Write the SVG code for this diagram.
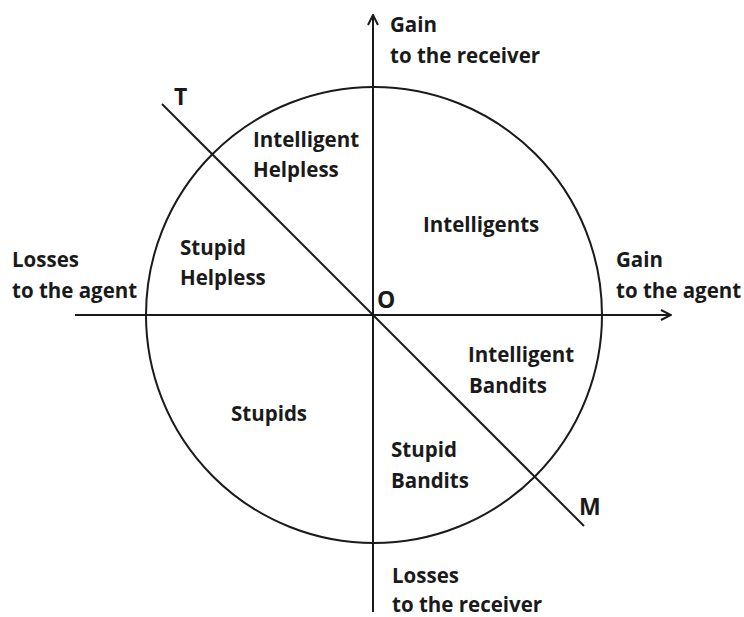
<svg xmlns="http://www.w3.org/2000/svg" width="744" height="617" viewBox="0 0 744 617">
<style>
text{font-family:"Open Sans","Liberation Sans",sans-serif;font-weight:700;font-size:20.5px;fill:#1a1a1a}
.big{font-size:23px;font-weight:700}
.ln{stroke:#1a1a1a;stroke-width:2;fill:none}
</style>
<defs>
<marker id="arr" viewBox="0 0 12 12" refX="11" refY="6" markerWidth="12" markerHeight="12" markerUnits="userSpaceOnUse" orient="auto">
<path d="M1,1 L11,6 L1,11" fill="none" stroke="#1a1a1a" stroke-width="2"/>
</marker>
</defs>
<rect width="744" height="617" fill="#fff"/>
<g id="connectors">
<circle class="ln" cx="374" cy="315" r="228"/>
<line class="ln" x1="75" y1="315" x2="671" y2="315" marker-end="url(#arr)"/>
<line class="ln" x1="373" y1="612" x2="373" y2="15" marker-end="url(#arr)"/>
<line class="ln" x1="162" y1="104" x2="584" y2="526"/>
</g>
<g id="axis-labels">
<text x="390" y="32">Gain</text>
<text x="390" y="63">to the receiver</text>
<text x="12" y="267">Losses</text>
<text x="12" y="298">to the agent</text>
<text x="616" y="267">Gain</text>
<text x="616" y="298">to the agent</text>
<text x="392" y="583">Losses</text>
<text x="392" y="612">to the receiver</text>
</g>
<g id="points">
<text class="big" x="174" y="105">T</text>
<text class="big" x="377" y="308">O</text>
<text class="big" x="579" y="515">M</text>
</g>
<g id="intelligent-helpless"><text x="253" y="147">Intelligent</text><text x="253" y="177">Helpless</text></g>
<g id="intelligents"><text x="423" y="232">Intelligents</text></g>
<g id="stupid-helpless"><text x="180" y="255">Stupid</text><text x="180" y="285">Helpless</text></g>
<g id="intelligent-bandits"><text x="468" y="362">Intelligent</text><text x="469" y="393">Bandits</text></g>
<g id="stupids"><text x="231" y="421">Stupids</text></g>
<g id="stupid-bandits"><text x="391" y="457">Stupid</text><text x="391" y="488">Bandits</text></g>
</svg>
